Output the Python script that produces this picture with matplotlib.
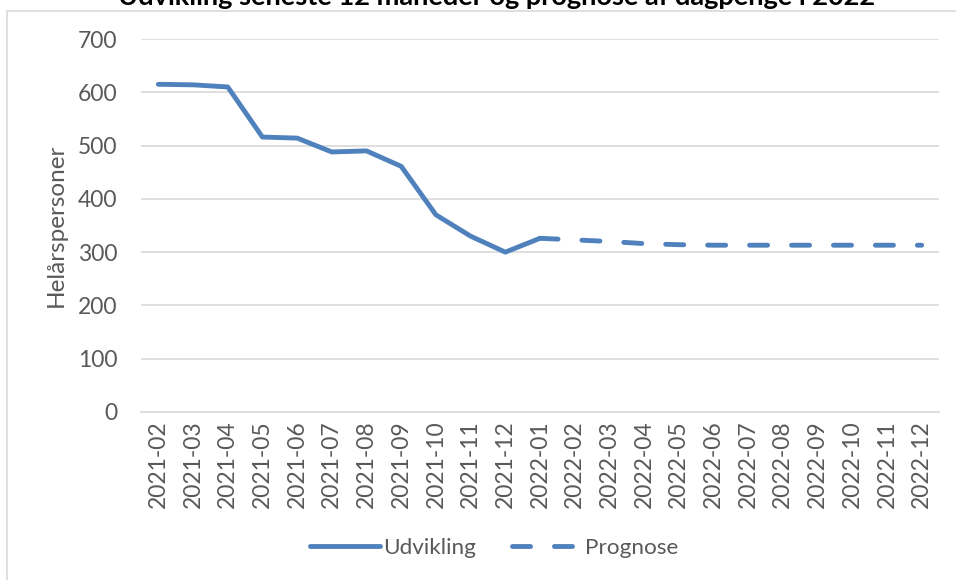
import matplotlib
matplotlib.use("Agg")
import matplotlib.pyplot as plt
from matplotlib.patches import Rectangle

plt.rcParams['font.family'] = ['Lato', 'DejaVu Sans']
plt.rcParams['lines.scale_dashes'] = False

months = ['2021-02', '2021-03', '2021-04', '2021-05', '2021-06', '2021-07',
          '2021-08', '2021-09', '2021-10', '2021-11', '2021-12', '2022-01',
          '2022-02', '2022-03', '2022-04', '2022-05', '2022-06', '2022-07',
          '2022-08', '2022-09', '2022-10', '2022-11', '2022-12']
udvikling = [615, 614, 610, 516, 514, 488, 490, 461, 370, 330, 300, 326]
prognose = [326, 323, 320, 316, 314, 313, 313, 313, 313, 313, 313, 313]

blue = '#4F81BD'
grey = '#595959'

fig = plt.figure(figsize=(9.56, 5.8), dpi=100)
W, H = 956, 580
ax = fig.add_axes([141 / W, 1 - 412 / H, (939 - 141) / W, (412 - 39) / H])

x_u = list(range(len(udvikling)))
x_p = list(range(len(udvikling) - 1, len(udvikling) - 1 + len(prognose)))
ax.plot(x_u, udvikling, color=blue, lw=3.5, solid_capstyle='round',
        solid_joinstyle='round', label='Udvikling')
ax.plot(x_p, prognose, color=blue, lw=3.5, dashes=(13.0, 17.2),
        dash_capstyle='round', label='Prognose')

ax.set_xlim(-0.5, len(months) - 0.5)
ax.set_ylim(0, 700)
ax.set_yticks(range(0, 701, 100))
ax.set_xticks(range(len(months)))
ax.set_xticklabels(months, rotation=90)
ax.tick_params(axis='both', length=0, labelsize=16.5, colors=grey, pad=6)
ax.tick_params(axis='y', pad=17)
ax.grid(axis='y', color='#D9D9D9', lw=1.2)
ax.set_axisbelow(True)
for s in ['left', 'right', 'top']:
    ax.spines[s].set_visible(False)
ax.spines['bottom'].set_color('#D9D9D9')
ax.spines['bottom'].set_linewidth(1.2)

ax.set_ylabel('Helårspersoner', fontsize=17.5, color=grey, labelpad=8)

fig.text(497 / W, 1 - 5 / H, 'Udvikling seneste 12 måneder og prognose af dagpenge i 2022',
         ha='center', va='baseline', fontsize=19.5, fontweight='bold', color='black')

fig.patches.append(Rectangle((7 / W, -0.1), 1.0, 1 - 11 / H + 0.1, transform=fig.transFigure,
                             fill=False, edgecolor='#D9D9D9', lw=1.2))

fig.legend(loc='center', bbox_to_anchor=(494 / W, 1 - 548 / H), ncol=2, frameon=False,
           fontsize=16.2, labelcolor=grey, handlelength=3.1, handletextpad=0.15,
           columnspacing=1.6)

fig.savefig('out.png', dpi=100)
